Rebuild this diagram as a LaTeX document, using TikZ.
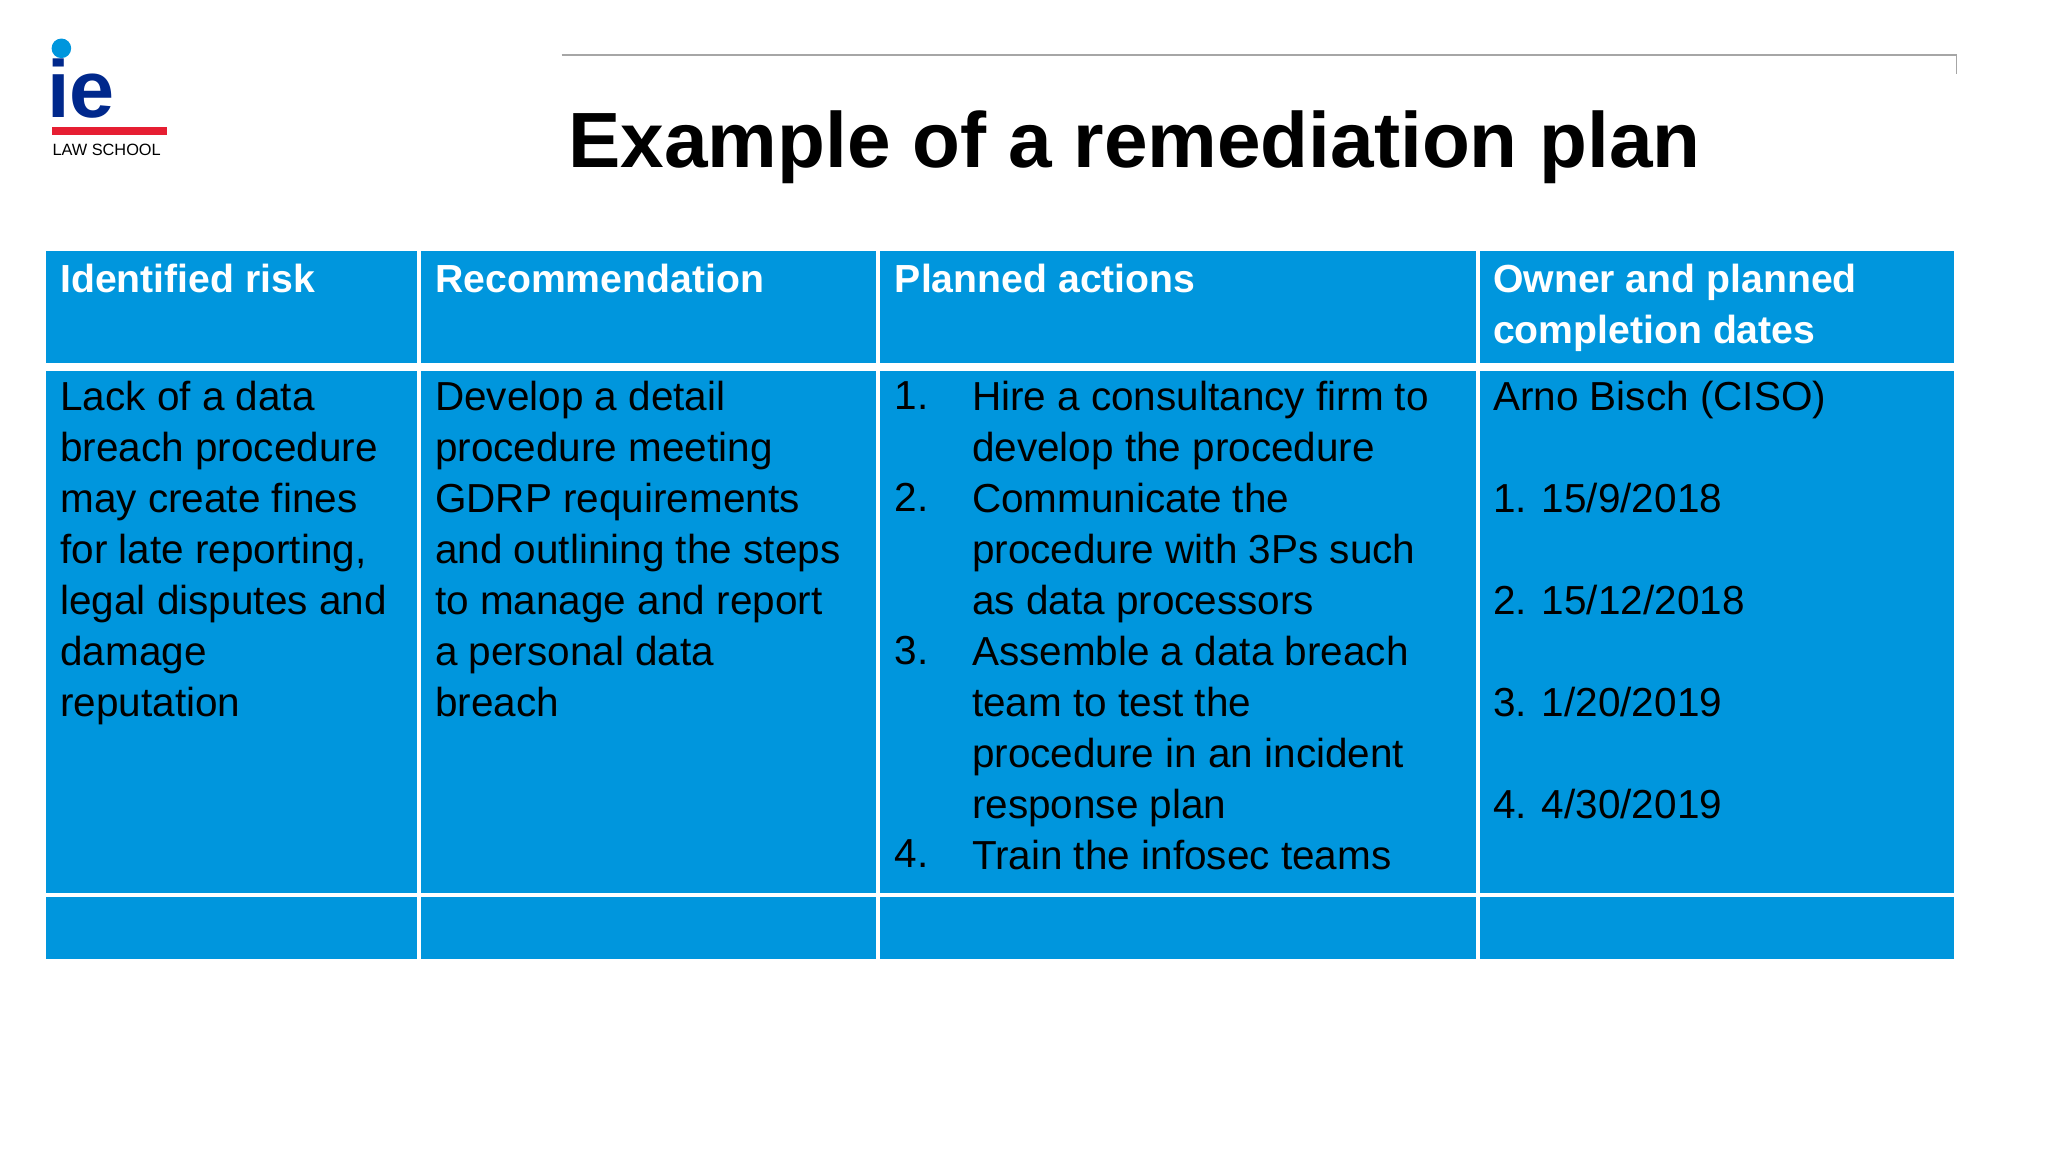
\documentclass[tikz,border=0pt]{standalone}
\usepackage{fontspec}
\setmainfont{Liberation Sans}
\definecolor{cellblue}{RGB}{0,150,221}
\definecolor{iedark}{RGB}{0,40,140}
\definecolor{ielight}{RGB}{0,150,221}
\definecolor{iered}{RGB}{230,30,50}
\tikzset{
  cell/.style={fill=cellblue,draw=none},
  hd/.style={anchor=north west,inner sep=0pt,align=left,text=white,font=\fontsize{30}{39}\selectfont\bfseries},
  bd/.style={anchor=north west,inner sep=0pt,align=left,text=black,font=\fontsize{31}{39}\selectfont},
}
\begin{document}
\begin{tikzpicture}[x=1pt,y=-1pt]
\useasboundingbox (0,0) rectangle (1568,882);
\fill[white] (0,0) rectangle (1568,882);
% top rule
\draw[gray!70,line width=1.2pt] (430,42) -- (1498,42) -- (1498,57);
% logo
\fill[ielight] (47,37) circle (7.5);
\node[anchor=west,inner sep=0pt,text=iedark,font=\fontsize{62}{62}\selectfont\bfseries] (ie) at (36,68) {ie};
\fill[iered] (40,97) rectangle (128,103);
\node[anchor=west,inner sep=0pt,font=\fontsize{12.5}{14}\selectfont] (law) at (40,115) {LAW SCHOOL};
% title
\node[anchor=west,inner sep=0pt,font=\fontsize{60}{70}\selectfont\bfseries] (title) at (435,113) {Example of a remediation plan};
% table cells
\foreach \xa/\xb in {35/319,322/671,674/1130,1133/1496}{
  \fill[cellblue] (\xa,192) rectangle (\xb,278);
  \fill[cellblue] (\xa,284) rectangle (\xb,684);
  \fill[cellblue] (\xa,687) rectangle (\xb,734);
}
% headers
\node[hd] (h1) at (46,202) {Identified risk};
\node[hd] (h2) at (333,202) {Recommendation};
\node[hd] (h3) at (685,202) {Planned actions};
\node[hd] (h4) at (1143,202) {Owner and planned\\completion dates};
% body
\node[bd] (b1) at (46,292) {Lack of a data\\breach procedure\\may create fines\\for late reporting,\\legal disputes and\\damage\\reputation};
\node[bd] (b2) at (333,292) {Develop a detail\\procedure meeting\\GDRP requirements\\and outlining the steps\\to manage and report\\a personal data\\breach};
\node[bd] (n3) at (685,292) {1.\\\\2.\\\\\\3.\\\\\\\\4.};
\node[bd] (b3) at (744,292) {Hire a consultancy firm to\\develop the procedure\\Communicate the\\procedure with 3Ps such\\as data processors\\Assemble a data breach\\team to test the\\procedure in an incident\\response plan\\Train the infosec teams};
\node[bd] (b4) at (1143,292) {Arno Bisch (CISO)\\\\1. 15/9/2018\\\\2. 15/12/2018\\\\3. 1/20/2019\\\\4. 4/30/2019};
\end{tikzpicture}
\end{document}
